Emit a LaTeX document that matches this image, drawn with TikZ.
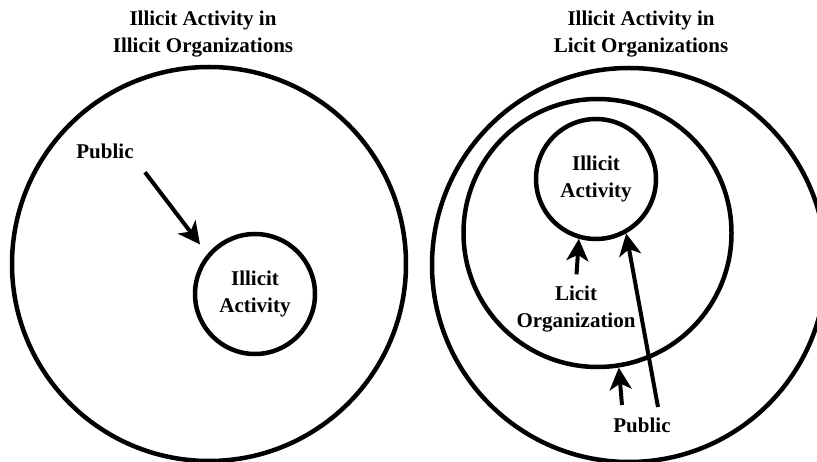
\documentclass[tikz,border=0pt]{standalone}
\usepackage{fontspec}
\setmainfont{Liberation Serif}
\usetikzlibrary{arrows.meta}

\begin{document}
\begin{tikzpicture}
[x=1pt,y=-1pt,>={Stealth[length=22pt,width=22pt,inset=6pt]},
  ring/.style={circle,draw,line width=4.5pt,inner sep=0pt},
  lbl/.style={font=\fontsize{21}{27}\selectfont\bfseries,align=center},
  link/.style={->,line width=4pt}]
  \useasboundingbox (0,0) rectangle (817,462);
  \clip (0,0) rectangle (817,462);

  % left: illicit organizations
  \node[lbl] (titleL) at (203,34) {Illicit Activity in\\Illicit Organizations};
  \node[ring,minimum size=394pt] (outerL) at (209,264) {};
  \node[ring,lbl,minimum size=120pt] (actL) at (255,294) {Illicit\\Activity};
  \node[lbl] (publicL) at (105,151) {Public};

  % right: licit organizations
  \node[lbl] (titleR) at (641,34) {Illicit Activity in\\Licit Organizations};
  \node[ring,minimum size=394pt] (outerR) at (629,265) {};
  \node[ring,minimum size=268pt] (orgR) at (597.5,233) {};
  \node[ring,lbl,minimum size=120pt] (actR) at (596,179) {Illicit\\Activity};
  \node[lbl] (orgtxt) at (576,309) {Licit\\Organization};
  \node[lbl] (publicR) at (642,425) {Public};

  \draw[link,shorten <=13pt,shorten >=12pt] (publicL.south east) -- (actL.140);
  \draw[link,shorten <=8pt] (orgtxt.north) -- (actR.254);
  \draw[link] ([xshift=16pt,yshift=7pt]publicR.north) -- (actR.299);
  \draw[link] ([xshift=-20pt,yshift=9pt]publicR.north) -- (orgR.279);

\end{tikzpicture}
\end{document}
